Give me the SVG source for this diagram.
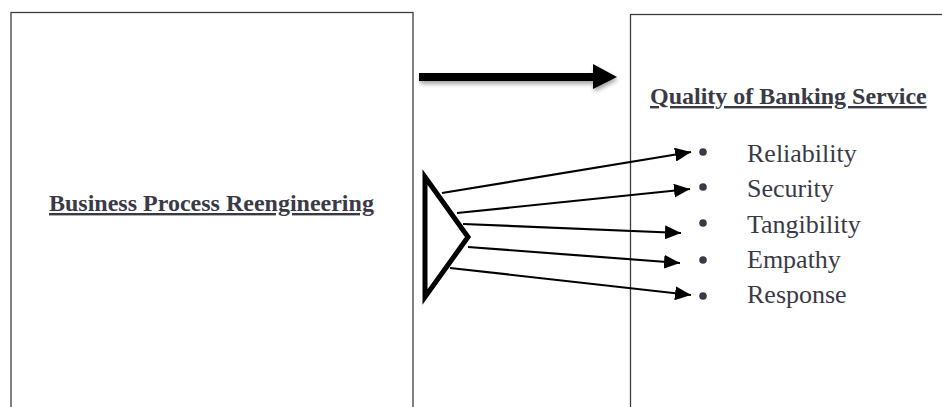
<svg xmlns="http://www.w3.org/2000/svg" width="942" height="407" viewBox="0 0 942 407">
  <style>
    .box { fill: #ffffff; stroke: #3c3c3c; stroke-width: 1.3; }
    .title { font-family: "Liberation Serif", "Times New Roman", serif; font-weight: bold; font-size: 24px; fill: #3a3a46; text-decoration: underline; }
    .item { font-family: "Liberation Serif", "Times New Roman", serif; font-size: 26px; fill: #3a3a46; }
    .bullet { fill: #3a3a46; }
    .link { stroke: #000000; stroke-width: 2.2; fill: none; marker-end: url(#head); }
  </style>
  <defs>
    <marker id="head" viewBox="0 0 16 14" refX="16" refY="7" markerWidth="16" markerHeight="14" markerUnits="userSpaceOnUse" orient="auto">
      <path d="M0,0 L16,7 L0,14 Z" fill="#000000"/>
    </marker>
    <filter id="shadow" x="-10%" y="-60%" width="120%" height="220%">
      <feGaussianBlur in="SourceAlpha" stdDeviation="2"/>
      <feOffset dx="1" dy="3" result="b"/>
      <feComponentTransfer><feFuncA type="linear" slope="0.35"/></feComponentTransfer>
      <feMerge><feMergeNode/><feMergeNode in="SourceGraphic"/></feMerge>
    </filter>
  </defs>

  <rect width="942" height="407" fill="#ffffff"/>

  <!-- Business Process Reengineering -->
  <g id="bpr">
    <rect class="box" x="11" y="12.5" width="402" height="410"/>
    <text class="title" x="49" y="211">Business Process Reengineering</text>
  </g>

  <!-- Quality of Banking Service -->
  <g id="quality">
    <rect class="box" x="630.5" y="14.5" width="330" height="410"/>
    <text class="title" x="650" y="104">Quality of Banking Service</text>
    <circle class="bullet" cx="703" cy="152" r="3.8"/>
    <circle class="bullet" cx="703" cy="187" r="3.8"/>
    <circle class="bullet" cx="703" cy="223" r="3.8"/>
    <circle class="bullet" cx="703" cy="260" r="3.8"/>
    <circle class="bullet" cx="703" cy="296" r="3.8"/>
    <text class="item" x="747" y="162">Reliability</text>
    <text class="item" x="747" y="197">Security</text>
    <text class="item" x="747" y="233">Tangibility</text>
    <text class="item" x="747" y="268">Empathy</text>
    <text class="item" x="747" y="303">Response</text>
  </g>

  <!-- Fan-out triangle -->
  <g id="splitter">
    <polygon points="425,177 468,237 425,297" fill="#ffffff" stroke="#000000" stroke-width="5" stroke-linejoin="miter"/>
  </g>

  <!-- Connectors -->
  <g id="connectors">
    <g filter="url(#shadow)">
      <line x1="419" y1="77" x2="595" y2="77" stroke="#000000" stroke-width="8"/>
      <polygon points="593,64 617,77 593,89" fill="#000000"/>
    </g>
    <line class="link" x1="442" y1="193" x2="691" y2="152"/>
    <line class="link" x1="457" y1="213" x2="690" y2="189"/>
    <line class="link" x1="463" y1="224" x2="681" y2="233"/>
    <line class="link" x1="468" y1="247" x2="680" y2="263"/>
    <line class="link" x1="450" y1="268" x2="691" y2="295"/>
  </g>
</svg>
